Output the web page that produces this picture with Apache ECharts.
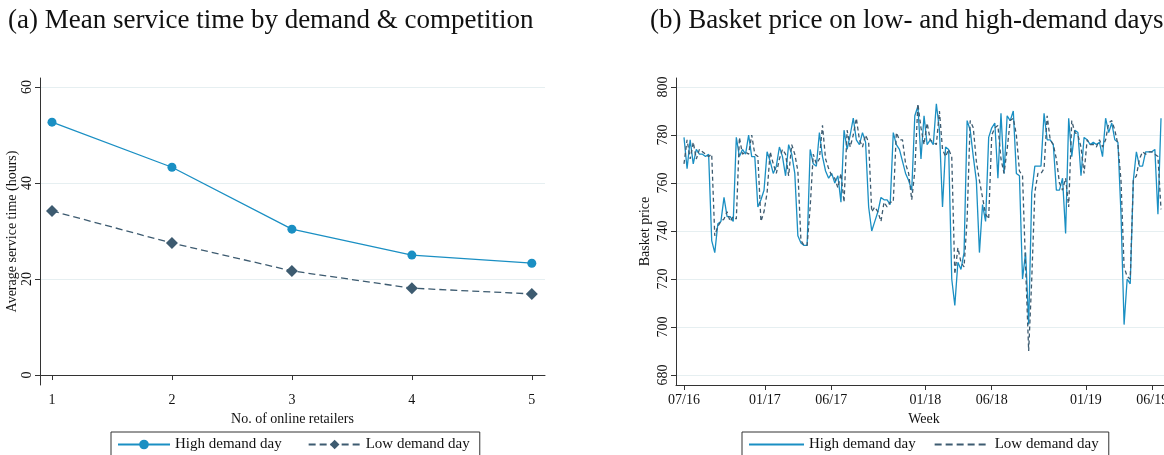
<!DOCTYPE html>
<html>
<head>
<meta charset="utf-8">
<script src="https://cdn.jsdelivr.net/npm/echarts@6/dist/echarts.min.js"></script>
<style>
  html, body { margin: 0; padding: 0; background: #fff; }
  #chart { width: 1164px; height: 455px; }
</style>
</head>
<body>
<div id="chart"></div>
<script>
// panel (a): mean service time
const retailers = [1, 2, 3, 4, 5];
const highService = [52.7, 43.3, 30.4, 25.0, 23.3];
const lowService = [34.2, 27.5, 21.7, 18.1, 16.9];
const serviceTicks = [0, 20, 40, 60];

// panel (b): weekly basket price, first week 2016-07-01
const weekStart = '2016-07-01';
const highPrice = [
  779, 766, 778, 768, 774, 772, 772, 771, 772, 736,
  731, 743, 744, 754, 746, 746, 744, 779, 771, 774,
  772, 780, 771, 771, 750, 753, 757, 773, 769, 764,
  767, 775, 771, 763, 776, 772, 764, 738, 735, 734,
  734, 774, 768, 767, 781, 771, 765, 762, 764, 760,
  763, 752, 782, 774, 780, 787, 778, 776, 781, 777,
  750, 740, 744, 748, 754, 753, 753, 751, 781, 776,
  774, 769, 764, 761, 757, 788, 792, 770, 788, 776,
  778, 776, 793, 782, 750, 775, 774, 720, 709, 727,
  724, 731, 786, 782, 771, 761, 731, 751, 744, 779,
  783, 785, 762, 789, 764, 788, 786, 790, 764, 763,
  720, 731, 701, 756, 767, 767, 767, 789, 778, 778,
  776, 757, 757, 762, 739, 787, 771, 782, 781, 763,
  779, 778, 776, 777, 776, 777, 771, 787, 781, 785,
  778, 777, 747, 701, 720, 718, 761, 773, 767, 767,
  773, 773, 773, 774, 747, 787
];
const lowPrice = [
  768, 778, 770, 777, 770, 774, 773, 772, 771, 772,
  738, 742, 744, 745, 748, 744, 746, 745, 779, 772,
  773, 772, 780, 772, 771, 744, 748, 756, 773, 768,
  764, 770, 774, 772, 763, 776, 772, 765, 736, 734,
  734, 750, 772, 768, 770, 784, 770, 766, 763, 762,
  758, 764, 752, 782, 775, 780, 787, 778, 775, 780,
  777, 748, 750, 748, 744, 752, 750, 752, 752, 781,
  778, 778, 768, 764, 753, 765, 793, 783, 776, 785,
  778, 777, 776, 790, 774, 771, 774, 771, 722, 733,
  727, 725, 745, 786, 783, 769, 761, 754, 747, 745,
  780, 783, 784, 770, 764, 774, 786, 787, 780, 765,
  763, 725, 690, 720, 756, 764, 764, 766, 788, 778,
  776, 770, 760, 757, 762, 750, 786, 781, 780, 775,
  764, 778, 776, 776, 775, 778, 775, 778, 785, 786,
  782, 776, 761, 725, 721, 720, 761, 763, 770, 773,
  772, 773, 773, 772, 771, 749
];
const priceTicks = [680, 700, 720, 740, 760, 780, 800];
const weekTickDates = ['2016-07-01', '2017-01-01', '2017-06-01', '2018-01-01', '2018-06-01', '2019-01-01', '2019-06-01'];
const weekTickLabels = ['07/16', '01/17', '06/17', '01/18', '06/18', '01/19', '06/19'];

const DAY = 86400000;
const t0 = Date.parse(weekStart);
const weekTicks = weekTickDates.map(d => Date.parse(d));
const weekX = highPrice.map((_, i) => t0 + i * 7 * DAY);

const FONT = '"Liberation Serif", "DejaVu Serif", serif';
const C_HIGH = '#1a8fc3';
const C_LOW = '#3d5b70';
const AXIS = '#333';
const GRIDLINE = '#e6eff1';

function valueAxis(extra) {
  return Object.assign({
    type: 'value',
    axisLine: { show: true, lineStyle: { color: AXIS, width: 1 } },
    axisTick: { show: true, length: 5, lineStyle: { color: AXIS } },
    axisLabel: { color: '#111', fontFamily: FONT, fontSize: 14 },
    splitLine: { show: false },
    nameTextStyle: { color: '#111', fontFamily: FONT, fontSize: 14 }
  }, extra);
}

const chart = echarts.init(document.getElementById('chart'), null, { renderer: 'canvas' });

chart.setOption({
  animation: false,
  backgroundColor: '#fff',
  title: [
    { text: '(a) Mean service time by demand & competition', left: 3, top: 2,
      textStyle: { fontFamily: FONT, fontSize: 27, fontWeight: 'normal', color: '#111' } },
    { text: '(b) Basket price on low- and high-demand days', left: 645, top: 2,
      textStyle: { fontFamily: FONT, fontSize: 27, fontWeight: 'normal', color: '#111' } }
  ],
  grid: [
    { left: 40, top: 78, width: 505, height: 307, outerBoundsMode: 'none' },
    { left: 676, top: 78, width: 496, height: 307, outerBoundsMode: 'none' }
  ],
  xAxis: [
    valueAxis({
      gridIndex: 0, min: 0.9, max: 5.11,
      name: 'No. of online retailers', nameLocation: 'middle', nameGap: 24,
      axisTick: { show: true, length: 5, lineStyle: { color: AXIS }, customValues: retailers },
      axisLabel: { color: '#111', fontFamily: FONT, fontSize: 14, margin: 8, customValues: retailers }
    }),
    valueAxis({
      gridIndex: 1, min: t0 - 18.2 * DAY, max: t0 + 1110 * DAY,
      name: 'Week', nameLocation: 'middle', nameGap: 24,
      axisTick: { show: true, length: 5, lineStyle: { color: AXIS }, customValues: weekTicks },
      axisLabel: { color: '#111', fontFamily: FONT, fontSize: 14, margin: 8, customValues: weekTicks,
        hideOverlap: false,
        formatter: v => weekTickLabels[weekTicks.indexOf(v)] || '' }
    })
  ],
  yAxis: [
    valueAxis({
      gridIndex: 0, min: -2.08, max: 61.9,
      name: 'Average service time (hours)', nameLocation: 'middle', nameGap: 21,
      axisTick: { show: true, length: 5, lineStyle: { color: AXIS }, customValues: serviceTicks },
      axisLabel: { color: '#111', fontFamily: FONT, fontSize: 14, rotate: 90, margin: 6, customValues: serviceTicks },
      splitLine: { show: true, lineStyle: { color: GRIDLINE, width: 1 } }
    }),
    valueAxis({
      gridIndex: 1, min: 675.83, max: 803.75,
      name: 'Basket price', nameLocation: 'middle', nameGap: 24,
      axisTick: { show: true, length: 5, lineStyle: { color: AXIS }, customValues: priceTicks },
      axisLabel: { color: '#111', fontFamily: FONT, fontSize: 14, rotate: 90, margin: 6, customValues: priceTicks },
      splitLine: { show: true, lineStyle: { color: GRIDLINE, width: 1 } }
    })
  ],
  legend: [
    {
      left: 111, top: 432,
      data: ['High demand day', 'Low demand day'],
      itemWidth: 52, itemHeight: 12, itemGap: 26,
      borderColor: '#333', borderWidth: 1, borderRadius: 0,
      padding: [5, 10, 10, 6],
      textStyle: { fontFamily: FONT, fontSize: 15, color: '#111' }
    },
    {
      left: 742, top: 432,
      data: ['High demand day', 'Low demand day'],
      itemWidth: 55, itemHeight: 12, itemGap: 18,
      borderColor: '#333', borderWidth: 1, borderRadius: 0,
      padding: [5, 10, 10, 6],
      itemStyle: { opacity: 0 },
      textStyle: { fontFamily: FONT, fontSize: 15, color: '#111' }
    }
  ],
  series: [
    {
      name: 'High demand day', type: 'line', xAxisIndex: 0, yAxisIndex: 0,
      data: retailers.map((r, i) => [r, highService[i]]),
      symbol: 'circle', symbolSize: 9,
      itemStyle: { color: C_HIGH },
      lineStyle: { color: C_HIGH, width: 1.3 }
    },
    {
      name: 'Low demand day', type: 'line', xAxisIndex: 0, yAxisIndex: 0,
      data: retailers.map((r, i) => [r, lowService[i]]),
      symbol: 'diamond', symbolSize: 12,
      itemStyle: { color: C_LOW },
      lineStyle: { color: C_LOW, width: 1.3, type: [7, 4] }
    },
    {
      name: 'High demand day', type: 'line', xAxisIndex: 1, yAxisIndex: 1,
      data: weekX.map((x, i) => [x, highPrice[i]]),
      showSymbol: false, symbol: 'none',
      itemStyle: { color: C_HIGH },
      lineStyle: { color: C_HIGH, width: 1.3 }
    },
    {
      name: 'Low demand day', type: 'line', xAxisIndex: 1, yAxisIndex: 1,
      data: weekX.map((x, i) => [x, lowPrice[i]]),
      showSymbol: false, symbol: 'none',
      itemStyle: { color: C_LOW },
      lineStyle: { color: C_LOW, width: 1.3, type: [4, 3] }
    }
  ]
});
</script>
</body>
</html>
